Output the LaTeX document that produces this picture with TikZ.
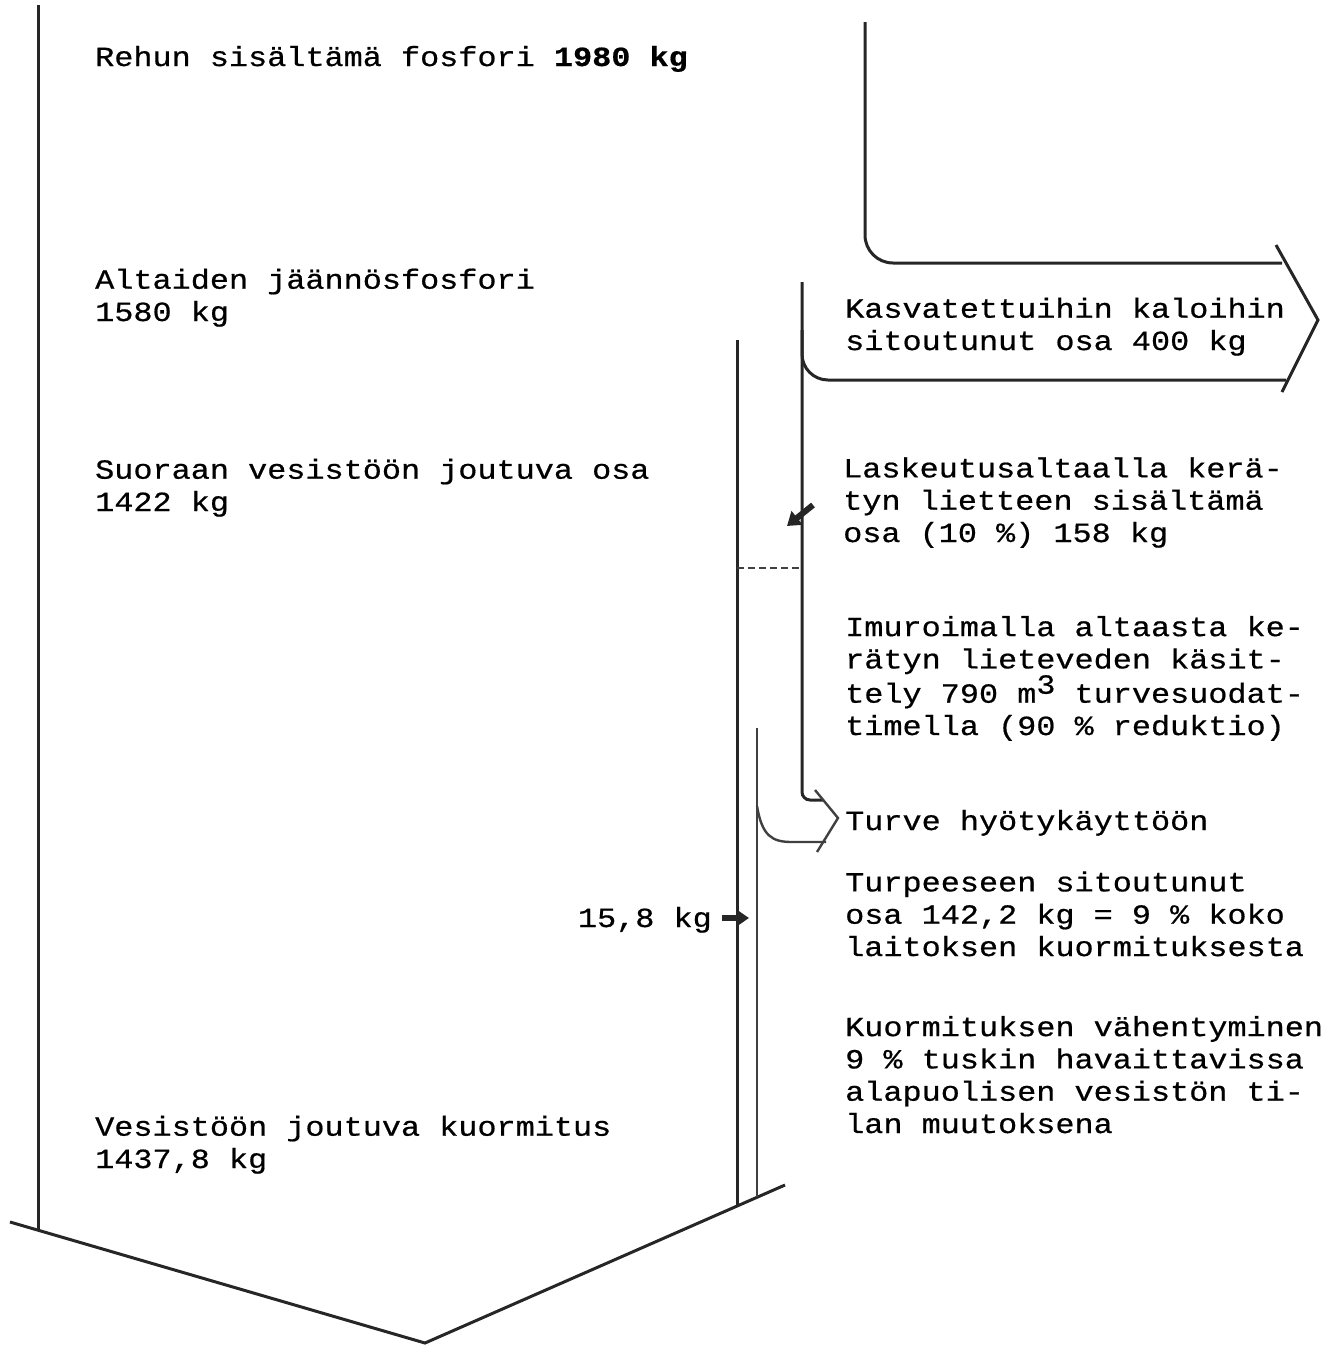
\documentclass[tikz,border=0pt]{standalone}
\usepackage{fontspec}
\setmonofont[FakeStretch=1.15, FakeBold=0.6]{Liberation Mono}
\usepackage{tikz}
\usetikzlibrary{arrows.meta, positioning, calc}
\newcommand{\typew}{\ttfamily\fontsize{27.7pt}{32.3pt}\selectfont}
\tikzset{
  flowline/.style={line width=3pt, draw=black!85},
  flowthin/.style={line width=2.4pt, draw=black!75},
  txt/.style={anchor=base west, align=left, inner sep=0pt, font=\typew},
  smallarrow/.style={-{Triangle[length=13pt,width=17pt]}, line width=6pt, draw=black!85},
}

\begin{document}
\begin{tikzpicture}[x=1pt, y=-1pt]
  \useasboundingbox (0,0) rectangle (1327,1345);

  \draw[flowline] (38,5) -- (38,1230);
  \draw[flowline] (10,1222) -- (425,1343) -- (785,1185);
  \draw[flowline] (737,340) -- (737,1206);
  \draw[flowthin] (757,728) -- (757,1197);
  \draw[flowline, rounded corners=28pt] (865,22) -- (865,263) -- (1282,263);
  \draw[flowline] (1276,245) -- (1318,320) -- (1282,392);
  \draw[flowline, rounded corners=26pt] (802,330) -- (802,380) -- (1286,380);
  \draw[flowline, rounded corners=8pt] (802,282) -- (802,800) -- (823,800);
  \draw[flowthin] (757,806) .. controls (762,836) and (772,842) .. (792,842) -- (826,842);
  \draw[flowthin] (815,790) -- (838,818) -- (817,852);
  \draw[flowthin, dash pattern=on 7pt off 4pt] (737,568) -- (802,568);

  % anchor base = baseline of the last line
  \node[txt] (feed) at (95,66) {Rehun sisältämä fosfori \textbf{1980 kg}};
  \node[txt] (rest) at (95,321) {Altaiden jäännösfosfori\\1580 kg};
  \node[txt] (direct) at (95,511) {Suoraan vesistöön joutuva osa\\1422 kg};
  \node[txt] (load) at (95,1168) {Vesistöön joutuva kuormitus\\1437,8 kg};
  \node[txt] (fish) at (845,350) {Kasvatettuihin kaloihin\\sitoutunut osa 400 kg};
  \node[txt] (sludge) at (843,542) {Laskeutusaltaalla kerä-\\tyn lietteen sisältämä\\osa (10 \%) 158 kg};
  \node[txt] (suction) at (845,735) {Imuroimalla altaasta ke-\\rätyn lieteveden käsit-\\tely 790 m\raisebox{9pt}{3} turvesuodat-\\timella (90 \% reduktio)};
  \node[txt] (peat) at (845,830) {Turve hyötykäyttöön};
  \node[txt] (bound) at (845,956) {Turpeeseen sitoutunut\\osa 142,2 kg = 9 \% koko\\laitoksen kuormituksesta};
  \node[txt] (effect) at (845,1133) {Kuormituksen vähentyminen\\9 \% tuskin havaittavissa\\alapuolisen vesistön ti-\\lan muutoksena};
  \node[txt, anchor=base east] (back) at (712,927) {15,8 kg};

  \coordinate (backtip) at (749,918);
  \coordinate (sludgefrom) at (813,505);
  \coordinate (sludgetip) at (787,526);
  \draw[smallarrow] ([xshift=10pt]back.east |- backtip) -- (backtip);
  \draw[smallarrow] (sludgefrom) -- (sludgetip);
\end{tikzpicture}
\end{document}
